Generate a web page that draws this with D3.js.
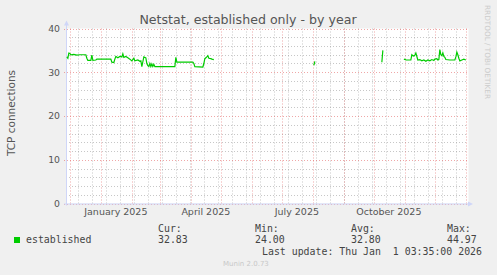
<!DOCTYPE html>
<html>
<head>
<meta charset="utf-8">
<script src="https://cdn.jsdelivr.net/npm/d3@7"></script>
<style>
  body { margin: 0; background: #f0f0f0; }
  svg { display: block; }
  text { font-family: "DejaVu Sans", sans-serif; fill: #555; }
  .mono { font-family: "DejaVu Sans Mono", monospace; fill: #444; }
</style>
</head>
<body>
<svg id="chart" width="497" height="275"></svg>
<script>
// readings, null = no data
const dates = [
  '2024-11-28', '2024-11-29', '2024-11-30', '2024-12-01', '2024-12-02', '2024-12-05', '2024-12-08',
  '2024-12-11', '2024-12-14', '2024-12-17', '2024-12-18', '2024-12-19', '2024-12-22', '2024-12-23',
  '2024-12-24', '2024-12-27', '2024-12-28', '2025-01-04', '2025-01-11', '2025-01-12', '2025-01-14',
  '2025-01-15', '2025-01-16', '2025-01-18', '2025-01-20', '2025-01-22', '2025-01-23', '2025-01-24',
  '2025-01-26', '2025-01-28', '2025-01-30', '2025-02-01', '2025-02-03', '2025-02-04', '2025-02-07',
  '2025-02-09', '2025-02-10', '2025-02-11', '2025-02-12', '2025-02-13', '2025-02-15', '2025-02-16',
  '2025-02-17', '2025-02-18', '2025-02-19', '2025-02-20', '2025-02-21', '2025-02-22', '2025-02-23',
  '2025-02-24', '2025-03-05', '2025-03-16', '2025-03-17', '2025-03-18', '2025-04-03', '2025-04-04',
  '2025-04-05', '2025-04-13', '2025-04-14', '2025-04-15', '2025-04-17', '2025-04-18', '2025-04-19',
  '2025-04-21', '2025-04-22', '2025-04-24', '2025-04-25',
  '2025-08-02', '2025-08-03', '2025-08-04',
  '2025-10-09', '2025-10-10', '2025-10-11',
  '2025-10-31', '2025-11-01', '2025-11-02', '2025-11-07', '2025-11-08', '2025-11-09', '2025-11-10',
  '2025-11-11', '2025-11-12', '2025-11-13', '2025-11-14', '2025-11-16', '2025-11-18', '2025-11-20',
  '2025-11-22', '2025-11-24', '2025-11-26', '2025-11-28', '2025-11-30', '2025-12-01', '2025-12-03',
  '2025-12-04', '2025-12-05', '2025-12-06', '2025-12-07', '2025-12-08', '2025-12-09', '2025-12-10',
  '2025-12-11', '2025-12-12', '2025-12-16', '2025-12-21', '2025-12-22', '2025-12-23', '2025-12-24',
  '2025-12-25', '2025-12-26', '2025-12-28', '2025-12-30', '2026-01-01'
];
const established = [
  33.5, 33.2, 34.4, 34.3, 34.0, 34.1, 33.9,
  34.0, 34.0, 34.0, 33.2, 32.7, 32.7, 33.9,
  32.7, 32.8, 33.0, 33.0, 33.0, 32.3, 32.2,
  33.0, 33.6, 33.3, 33.6, 33.5, 34.2, 33.4,
  33.6, 33.3, 33.0, 32.6, 33.2, 32.6, 32.8,
  32.5, 32.6, 31.3, 32.4, 33.5, 33.3, 32.0,
  31.5, 31.3, 32.0, 31.3, 31.9, 31.3, 31.8,
  31.3, 31.3, 31.3, 33.4, 32.3, 32.3, 32.0,
  31.3, 31.2, 32.0, 33.1, 33.5, 33.8, 33.2,
  33.1, 33.0, 32.9, null,
  31.6, 32.5, null,
  32.3, 35.0, null,
  32.9, 33.0, 32.8, 32.8, 34.0, 33.8, 33.7,
  33.9, 34.4, 33.6, 32.8, 32.9, 32.6, 32.8,
  32.5, 32.8, 32.6, 32.9, 32.7, 33.0, 33.1,
  32.8, 32.9, 35.2, 34.0, 33.8, 34.4, 33.6,
  33.4, 32.9, 32.8, 32.8, 33.5, 34.6, 34.0,
  33.2, 32.6, 32.8, 33.0, 32.8
];
const yTicks = [0, 10, 20, 30, 40];
const monthLabels = ['2025-01-01', '2025-04-01', '2025-07-01', '2025-10-01'];
const legendHeads = ['Cur:', 'Min:', 'Avg:', 'Max:'];
const legendValues = ['32.83', '24.00', '32.80', '44.97'];

const parse = d3.timeParse('%Y-%m-%d');
const end = new Date(2026, 0, 1, 3, 35);
const start = d3.timeDay.offset(end, -400);

const svg = d3.select('#chart');
const plot = { left: 66, right: 466, top: 28.5, bottom: 203.5 };

const x = d3.scaleTime().domain([start, end]).range([plot.left, plot.right]);
const y = d3.scaleLinear().domain([0, 40]).range([plot.bottom, plot.top]);

// canvas
svg.append('rect').attr('x', plot.left + 0.5).attr('y', plot.top)
  .attr('width', plot.right + 2 - plot.left).attr('height', plot.bottom - plot.top).attr('fill', '#fff');

const grid = svg.append('g');
const minorColor = 'rgba(143,143,143,0.5)';
const majorColor = 'rgba(224,80,80,0.5)';
// minor grid: every other week, horizontal every 2
const minorDays = d3.timeDay.every(1).range(start, end).filter(d => {
  let diff = Math.round((d - new Date(2025, 11, 22)) / 864e5);
  return ((diff % 14) + 14) % 14 === 0;
});
grid.selectAll('.vmin').data(minorDays).join('line')
  .attr('x1', d => Math.round(x(d)) + 0.5).attr('x2', d => Math.round(x(d)) + 0.5)
  .attr('y1', plot.top).attr('y2', plot.bottom)
  .attr('stroke', minorColor).attr('stroke-dasharray', '1,2');
const minorY = d3.range(2, 40, 2).filter(v => v % 10 !== 0);
grid.selectAll('.hmin').data(minorY).join('line')
  .attr('x1', plot.left).attr('x2', plot.right + 2)
  .attr('y1', d => Math.round(y(d)) + 0.5).attr('y2', d => Math.round(y(d)) + 0.5)
  .attr('stroke', minorColor).attr('stroke-dasharray', '1,2');

// major grid: month starts, every 10
const months = d3.timeMonth.range(start, end);
grid.selectAll('.vmaj').data(months).join('line')
  .attr('x1', d => Math.round(x(d)) + 0.5).attr('x2', d => Math.round(x(d)) + 0.5)
  .attr('y1', plot.top).attr('y2', plot.bottom + 2)
  .attr('stroke', majorColor).attr('stroke-dasharray', '1,2');
grid.selectAll('.hmaj').data(yTicks).join('line')
  .attr('x1', plot.left - 2).attr('x2', plot.right + 2)
  .attr('y1', d => Math.round(y(d)) + 0.5).attr('y2', d => Math.round(y(d)) + 0.5)
  .attr('stroke', majorColor).attr('stroke-dasharray', '1,2');

// axes
const axisColor = '#cfd6f8';
svg.append('line').attr('x1', plot.left + 0.5).attr('x2', plot.left + 0.5)
  .attr('y1', plot.bottom + 2).attr('y2', 24).attr('stroke', axisColor);
svg.append('line').attr('x1', plot.left - 2).attr('x2', plot.right + 3)
  .attr('y1', plot.bottom + 0.5).attr('y2', plot.bottom + 0.5).attr('stroke', axisColor);
svg.append('path').attr('d', `M${plot.left - 2},25.5L${plot.left + 0.5},20.5L${plot.left + 3},25.5Z`).attr('fill', axisColor);
svg.append('path').attr('d', `M${plot.right + 2},${plot.bottom - 2}L${plot.right + 7},${plot.bottom + 0.5}L${plot.right + 2},${plot.bottom + 3}Z`).attr('fill', axisColor);

// tick labels
svg.append('g').selectAll('text').data(yTicks).join('text')
  .attr('x', 60).attr('y', d => y(d) + 3.4)
  .attr('text-anchor', 'end').style('font-size', '9.3px')
  .text(d => d);
svg.append('g').selectAll('text').data(monthLabels.map(parse)).join('text')
  .attr('x', d => x(d3.timeDay.offset(d, 15)))
  .attr('y', 214.5)
  .attr('text-anchor', 'middle').style('font-size', '9.5px')
  .text(d3.timeFormat('%B %Y'));

// series
const line = d3.line()
  .defined(d => d.v !== null)
  .x(d => x(d.t))
  .y(d => y(d.v));
const pts = dates.map((d, i) => ({ t: parse(d), v: established[i] }));
svg.append('path').datum(pts)
  .attr('d', line)
  .attr('fill', 'none')
  .attr('stroke', '#00cc00')
  .attr('stroke-width', 1.2);

// titles
svg.append('text').attr('x', 248).attr('y', 24).attr('text-anchor', 'middle')
  .style('font-size', '12.6px').text('Netstat, established only - by year');
svg.append('text').attr('transform', 'translate(15,113) rotate(-90)').attr('text-anchor', 'middle')
  .style('font-size', '10.5px').text('TCP connections');
svg.append('text').attr('transform', 'translate(485,5) rotate(90)')
  .style('font-size', '7.3px').style('fill', '#ccc').text('RRDTOOL / TOBI OETIKER');

// legend
svg.append('rect').attr('x', 14).attr('y', 237).attr('width', 6).attr('height', 6).attr('fill', '#00cc00');
svg.append('text').attr('class', 'mono').attr('x', 26).attr('y', 243).style('font-size', '9.9px').text('established');
const colX = [158, 255, 351, 447];
svg.append('g').selectAll('text').data(legendHeads).join('text')
  .attr('class', 'mono').attr('x', (d, i) => colX[i]).attr('y', 231.5).style('font-size', '9.9px')
  .text(d => d);
svg.append('g').selectAll('text').data(legendValues).join('text')
  .attr('class', 'mono').attr('x', (d, i) => colX[i]).attr('y', 243).style('font-size', '9.9px')
  .text(d => d);
svg.append('text').attr('class', 'mono').attr('x', 262).attr('y', 255).style('font-size', '9.9px')
  .style('white-space', 'pre')
  .text('Last update: Thu Jan  1 03:35:00 2026');
svg.append('text').attr('x', 223).attr('y', 266).style('font-size', '7px').style('fill', '#c8c8c8')
  .text('Munin 2.0.73');
</script>
</body>
</html>
